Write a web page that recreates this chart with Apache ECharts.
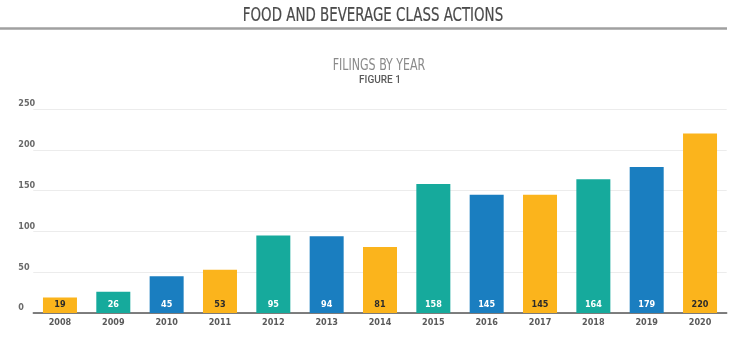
<!DOCTYPE html>
<html>
<head>
<meta charset="utf-8">
<script src="https://cdn.jsdelivr.net/npm/echarts@6/dist/echarts.min.js"></script>
<style>
  html, body { margin: 0; padding: 0; background: #fff; }
  #chart { width: 749px; height: 350px; }
</style>
</head>
<body>
<div id="chart"></div>
<script>
// Food and beverage class action filings per year
const years = ['2008', '2009', '2010', '2011', '2012', '2013', '2014',
               '2015', '2016', '2017', '2018', '2019', '2020'];
const filings = [19, 26, 45, 53, 95, 94, 81, 158, 145, 145, 164, 179, 220];
const yTicks = [0, 50, 100, 150, 200, 250];

// Bars cycle through yellow, teal, blue
const palette = ['#FBB41C', '#16AA9C', '#1A7EC0'];
const labelInk = ['#2b2b2b', '#ffffff', '#ffffff'];

const condensed = '"DejaVu Sans Condensed", sans-serif';

const chart = echarts.init(document.getElementById('chart'), null, { renderer: 'canvas' });

// Headings are drawn as graphic text squeezed horizontally to get a tall, narrow face
chart.setOption({
  animation: false,
  backgroundColor: '#ffffff',
  graphic: [
    {
      type: 'text',
      x: 373, y: 16, scaleX: 0.745,
      style: {
        text: 'FOOD AND BEVERAGE CLASS ACTIONS',
        textAlign: 'center', textVerticalAlign: 'middle',
        font: 'normal 20px ' + condensed,
        fill: '#4a4a4a',
        stroke: '#4a4a4a',
        lineWidth: 0.2
      }
    },
    {
      type: 'line',
      shape: { x1: 0, y1: 28.5, x2: 727, y2: 28.5 },
      style: { stroke: '#a0a0a0', lineWidth: 2.5 }
    },
    {
      type: 'text',
      x: 379, y: 66, scaleX: 0.745,
      style: {
        text: 'FILINGS BY YEAR',
        textAlign: 'center', textVerticalAlign: 'middle',
        font: 'normal 16.5px ' + condensed,
        fill: '#8a8a8a'
      }
    },
    {
      type: 'text',
      x: 380, y: 80,
      style: {
        text: 'FIGURE 1',
        textAlign: 'center', textVerticalAlign: 'middle',
        font: '500 10px Roboto, sans-serif',
        fill: '#5a5a5a'
      }
    }
  ],
  grid: { left: 33.3, right: 22.3, top: 109, bottom: 37 },
  xAxis: {
    type: 'category',
    data: years,
    axisTick: { show: false },
    axisLine: { lineStyle: { color: '#555555', width: 1.5 } },
    axisLabel: {
      margin: 5,
      fontFamily: condensed, fontSize: 9, fontWeight: 'bold', color: '#5a5a5a'
    }
  },
  yAxis: {
    type: 'value',
    min: yTicks[0],
    max: yTicks[yTicks.length - 1],
    interval: yTicks[1] - yTicks[0],
    axisLine: { show: false },
    axisTick: { show: false },
    axisLabel: {
      align: 'left', verticalAlign: 'bottom', lineHeight: 10, margin: 15,
      fontFamily: condensed, fontSize: 9, fontWeight: 'bold', color: '#6a6a6a'
    },
    splitLine: { lineStyle: { color: '#ececec', width: 1 } }
  },
  series: [
    {
      type: 'bar',
      barWidth: 34,
      data: filings.map((v, i) => ({
        value: v,
        itemStyle: { color: palette[i % palette.length] },
        label: { color: labelInk[i % labelInk.length] }
      })),
      label: {
        show: true,
        position: 'insideBottom',
        distance: 4,
        fontFamily: condensed,
        fontSize: 9,
        fontWeight: 'bold'
      }
    }
  ]
});
</script>
</body>
</html>
